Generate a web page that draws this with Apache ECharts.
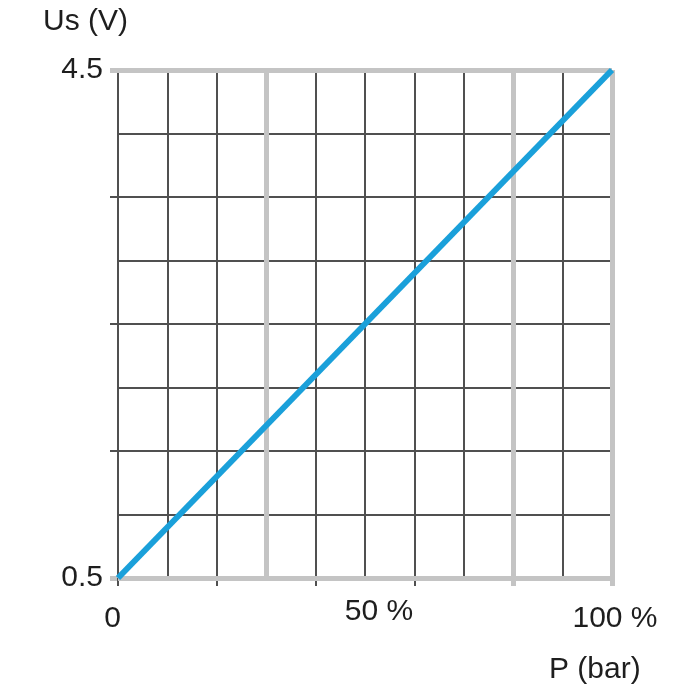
<!DOCTYPE html>
<html>
<head>
<meta charset="utf-8">
<script src="https://cdn.jsdelivr.net/npm/echarts@6/dist/echarts.min.js"></script>
<style>
html,body{margin:0;padding:0;background:#fff;}
#chart{width:700px;height:700px;}
</style>
</head>
<body>
<div id="chart"></div>
<script>
// Data
var pressurePct = [0, 100];
var voltage = [0.5, 4.5];
var xTickLabels = [0, 50, 100];
var yTickLabels = [0.5, 4.5];
var grayXLines = [30, 80, 100];
var grayYLines = [0.5, 4.5];
var darkXTicks = [0, 20, 40, 60];
var grayXTicks = [80, 100];
var darkYTicks = [1.5, 2.5, 3.5];
var grayYTicks = [0.5, 4.5];

var FONT = "'Liberation Sans', Arial, sans-serif";
var TXT = '#1e1e1e';
var DARK = '#505050';
var GRAY = '#c4c4c4';

var chart = echarts.init(document.getElementById('chart'));
var lineData = pressurePct.map(function (p, i) { return [p, voltage[i]]; });

var markData = grayXLines.map(function (v) { return { xAxis: v }; })
  .concat(grayYLines.map(function (v) { return { yAxis: v }; }));

function tickX(vals, color, width) {
  return {
    type: 'value', position: 'bottom', min: 0, max: 100, interval: 10,
    axisLine: { show: false }, splitLine: { show: false }, axisLabel: { show: false },
    axisTick: { show: true, length: 8, customValues: vals, lineStyle: { color: color, width: width } }
  };
}
function tickY(vals, color, width) {
  return {
    type: 'value', position: 'left', min: 0.5, max: 4.5, interval: 0.5,
    axisLine: { show: false }, splitLine: { show: false }, axisLabel: { show: false },
    axisTick: { show: true, length: 8, customValues: vals, lineStyle: { color: color, width: width } }
  };
}

chart.setOption({
  animation: false,
  backgroundColor: '#ffffff',
  grid: { left: 118, right: 88, top: 70, bottom: 122, containLabel: false },
  xAxis: [{
    type: 'value', position: 'bottom', min: 0, max: 100, interval: 10,
    axisLine: { show: false },
    splitLine: { show: true, lineStyle: { color: DARK, width: 2 } },
    axisTick: { show: false },
    axisLabel: {
      show: true, customValues: xTickLabels, margin: 19,
      formatter: function (v) {
        if (v === 50) return '{m|50 %}';
        if (v === 100) return '{e|100 %}';
        return '{s|0}';
      },
      rich: {
        s: { fontFamily: FONT, fontSize: 30, color: TXT, lineHeight: 30, padding: [13, 11, 0, 0] },
        m: { fontFamily: FONT, fontSize: 30, color: TXT, lineHeight: 30, padding: [0, 0, 0, 28] },
        e: { fontFamily: FONT, fontSize: 30, color: TXT, lineHeight: 30, padding: [13, 0, 0, 6] }
      }
    }
  }, tickX(darkXTicks, DARK, 2), tickX(grayXTicks, GRAY, 5)],
  yAxis: [{
    type: 'value', position: 'left', min: 0.5, max: 4.5, interval: 0.5,
    axisLine: { show: false },
    splitLine: { show: true, lineStyle: { color: DARK, width: 2 } },
    axisTick: { show: false },
    axisLabel: {
      show: true, customValues: yTickLabels, margin: 15,
      fontFamily: FONT, fontSize: 30, color: TXT,
      formatter: function (v) { return v.toFixed(1); }
    }
  }, tickY(darkYTicks, DARK, 2), tickY(grayYTicks, GRAY, 5)],
  graphic: [
    { type: 'text', left: 43, top: 7, style: { text: 'Us (V)', font: '30px ' + FONT, fill: TXT } },
    { type: 'text', left: 549, top: 655, style: { text: 'P (bar)', font: '30px ' + FONT, fill: TXT } }
  ],
  series: [{
    type: 'line', xAxisIndex: 0, yAxisIndex: 0, data: [], z: 1, silent: true,
    markLine: {
      silent: true, symbol: 'none', label: { show: false },
      lineStyle: { color: GRAY, width: 5, type: 'solid' },
      emphasis: { disabled: true },
      data: markData
    }
  }, {
    type: 'line', xAxisIndex: 0, yAxisIndex: 0, data: lineData, z: 5,
    showSymbol: false, symbol: 'none', silent: true,
    lineStyle: { color: '#1aa0da', width: 6 }
  }]
});
</script>
</body>
</html>
